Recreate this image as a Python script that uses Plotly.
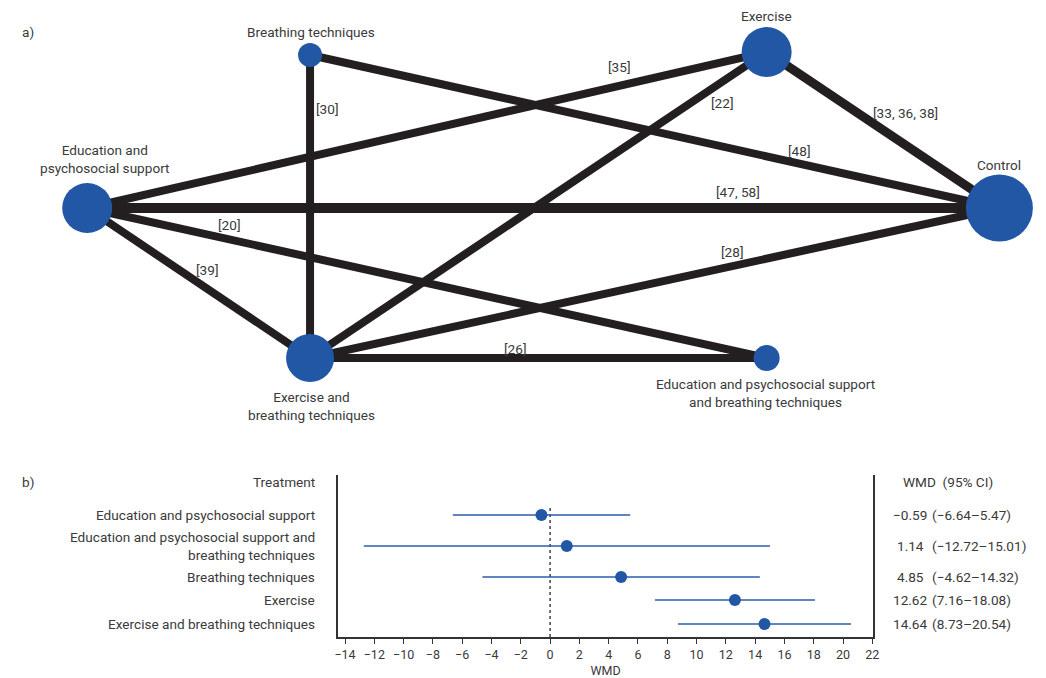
import plotly.graph_objects as go

# ---------------- data ----------------
node_names = ["Breathing techniques", "Exercise", "Education and psychosocial support",
              "Control", "Exercise and breathing techniques",
              "Education and psychosocial support and breathing techniques"]
node_labels = ["Breathing techniques", "Exercise", "Education and<br>psychosocial support",
               "Control", "Exercise and<br>breathing techniques",
               "Education and psychosocial support<br>and breathing techniques"]
edge_from = [0, 0, 1, 1, 1, 2, 2, 2, 4, 4]
edge_to = [3, 4, 2, 4, 3, 3, 5, 4, 3, 5]
edge_refs = ["[48]", "[30]", "[35]", "[22]", "[33, 36, 38]", "[47, 58]", "[20]", "[39]", "[28]", "[26]"]
edge_nstudies = [1, 1, 1, 1, 3, 2, 1, 1, 1, 1]

treatments = ["Education and psychosocial support",
              "Education and psychosocial support and<br>breathing techniques",
              "Breathing techniques", "Exercise", "Exercise and breathing techniques"]
wmd = [-0.59, 1.14, 4.85, 12.62, 14.64]
ci_low = [-6.64, -12.72, -4.62, 7.16, 8.73]
ci_high = [5.47, 15.01, 14.32, 18.08, 20.54]
wmd_text = ["\u22120.59", "1.14", "4.85", "12.62", "14.64"]
ci_text = ["(\u22126.64\u20135.47)", "(\u221212.72\u201315.01)", "(\u22124.62\u201314.32)",
           "(7.16\u201318.08)", "(8.73\u201320.54)"]
x_ticks = list(range(-14, 23, 2))

# ---------------- layout constants (pixel positions) ----------------
W, H = 1046, 678
node_pos = [(309, 55), (770, 52), (84, 208), (1005, 208), (309, 358), (770, 358)]
node_radius = [12, 25, 25, 33.5, 24, 13]
node_label_pos = [(310, 32), (770, 16), (102, 159), (1005, 165), (310, 406), (769, 393)]
edge_label_pos = [(803, 151), (327, 109), (621, 67), (725, 103), (910, 113),
                  (741, 192), (228, 225), (205, 270), (736, 252), (516, 349)]
row_y = [515, 546, 577, 600, 624]

FONT = "Roboto"
FS = 13.6
TXT = "#3a3a3a"
BLUE = "#2257a5"
EDGE = "#231f20"

fig = go.Figure()

# network edges
for f, t, n in zip(edge_from, edge_to, edge_nstudies):
    (x0, y0), (x1, y1) = node_pos[f], node_pos[t]
    fig.add_trace(go.Scatter(x=[x0, x1], y=[y0, y1], mode="lines",
                             line=dict(color=EDGE, width=8 if n == 1 else (10 if n == 2 else 9)),
                             xaxis="x2", yaxis="y2", hoverinfo="skip", showlegend=False))
# network nodes
fig.add_trace(go.Scatter(x=[p[0] for p in node_pos], y=[p[1] for p in node_pos],
                         mode="markers", text=node_names, hoverinfo="text",
                         marker=dict(color=BLUE, opacity=1, size=[2 * r for r in node_radius],
                                     line=dict(width=0)),
                         xaxis="x2", yaxis="y2", showlegend=False))

annotations = []
for lab, (x, y) in zip(node_labels, node_label_pos):
    annotations.append(dict(x=x, y=y, xref="x2", yref="y2", text=lab, showarrow=False,
                            font=dict(family=FONT, size=FS, color=TXT), align="center"))
for lab, (x, y) in zip(edge_refs, edge_label_pos):
    annotations.append(dict(x=x, y=y, xref="x2", yref="y2", text=lab, showarrow=False,
                            font=dict(family=FONT, size=FS, color=TXT)))
annotations.append(dict(x=24, y=32, xref="x2", yref="y2", text="a)", showarrow=False,
                        font=dict(family=FONT, size=FS, color=TXT)))
annotations.append(dict(x=24, y=482, xref="x2", yref="y2", text="b)", showarrow=False,
                        font=dict(family=FONT, size=FS, color=TXT)))

# forest plot
fig.add_trace(go.Scatter(x=[0, 0], y=[508, 637], mode="lines",
                         line=dict(color="#111111", width=1.2, dash="dot"),
                         xaxis="x", yaxis="y", hoverinfo="skip", showlegend=False))
for lo, hi, y in zip(ci_low, ci_high, row_y):
    fig.add_trace(go.Scatter(x=[lo, hi], y=[y, y], mode="lines",
                             line=dict(color="#2d5ca8", width=1.4),
                             xaxis="x", yaxis="y", hoverinfo="skip", showlegend=False))
fig.add_trace(go.Scatter(x=wmd, y=row_y, mode="markers",
                         marker=dict(color=BLUE, size=12, opacity=1), xaxis="x", yaxis="y",
                         showlegend=False))

for lab, y in zip(treatments, row_y):
    annotations.append(dict(x=316, y=y, xref="x2", yref="y2", text=lab, showarrow=False,
                            xanchor="right", align="right",
                            font=dict(family=FONT, size=FS, color=TXT)))
for wt, ct, y in zip(wmd_text, ci_text, row_y):
    annotations.append(dict(x=915, y=y, xref="x2", yref="y2", text=wt, showarrow=False,
                            xanchor="center", font=dict(family=FONT, size=FS, color=TXT)))
    annotations.append(dict(x=935, y=y, xref="x2", yref="y2", text=ct, showarrow=False,
                            xanchor="left", font=dict(family=FONT, size=FS, color=TXT)))
annotations.append(dict(x=316, y=482, xref="x2", yref="y2", text="Treatment", showarrow=False,
                        xanchor="right", font=dict(family=FONT, size=FS, color=TXT)))
annotations.append(dict(x=906, y=482, xref="x2", yref="y2", text="WMD  (95% CI)", showarrow=False,
                        xanchor="left", font=dict(family=FONT, size=FS, color=TXT)))

fx0, fx1 = 337.3, 877.5
fy0, fy1 = 475, 637.3
tick_lo_px, tick_hi_px = 344.3, 876.7
unit = (tick_hi_px - tick_lo_px) / 36.0
fig.update_layout(
    width=W, height=H, margin=dict(l=0, r=0, t=0, b=0),
    paper_bgcolor="white", plot_bgcolor="rgba(0,0,0,0)",
    font=dict(family=FONT, size=FS, color=TXT),
    annotations=annotations, showlegend=False,
    xaxis2=dict(domain=[0, 1], range=[0, W], visible=False, fixedrange=True),
    yaxis2=dict(domain=[0, 1], range=[H, 0], visible=False, fixedrange=True, anchor="x2"),
    xaxis=dict(domain=[fx0 / W, fx1 / W],
               range=[-14 - (tick_lo_px - fx0) / unit, -14 + (fx1 - tick_lo_px) / unit],
               tickvals=x_ticks, ticks="outside", ticklen=5, tickwidth=1, tickcolor="#333",
               showline=True, linecolor="#333", linewidth=1.5, showgrid=False, zeroline=False,
               tickfont=dict(family=FONT, size=12.5, color=TXT),
               title=dict(text="WMD", font=dict(family=FONT, size=12.5, color=TXT), standoff=6),
               anchor="y", fixedrange=True),
    yaxis=dict(domain=[(H - fy1) / H, (H - fy0) / H], range=[fy1, fy0],
               showline=True, mirror=True, linecolor="#333", linewidth=1.5,
               showticklabels=False, ticks="", showgrid=False, zeroline=False, anchor="x",
               fixedrange=True),
)

fig.write_html("out.html", config={"displayModeBar": False},
               post_script="document.body.style.margin='0';document.body.style.padding='0';"
                           "document.body.style.overflow='hidden';")
